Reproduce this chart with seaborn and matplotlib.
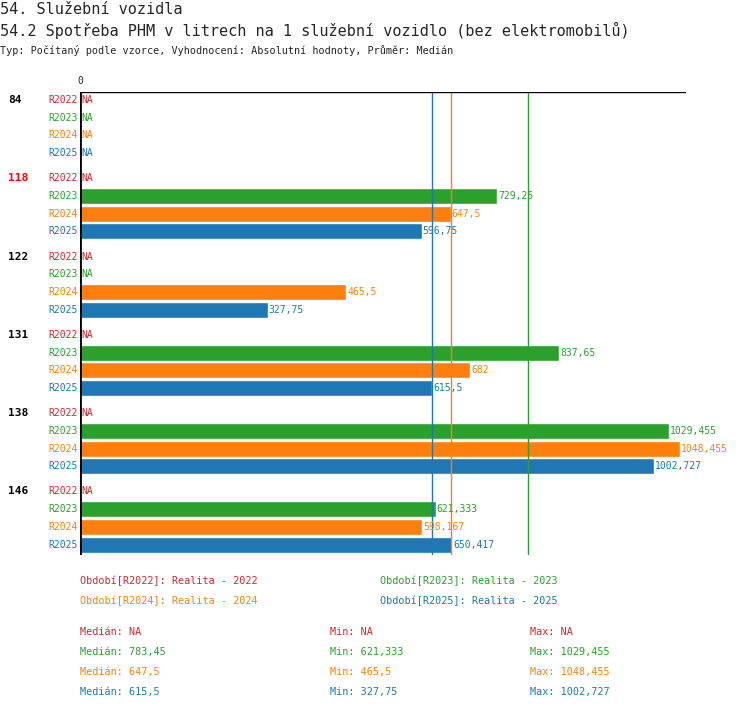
import matplotlib
matplotlib.use("Agg")
import matplotlib.pyplot as plt
import numpy as np
import seaborn as sns

sns.set_theme(style="white")
plt.rcParams["font.family"] = ["DejaVu Sans Mono", "DejaVu Sans"]

GROUPS = ["84", "118", "122", "131", "138", "146"]
GROUP_COLORS = ["black", "red", "black", "black", "black", "black"]
SERIES = ["R2022", "R2023", "R2024", "R2025"]
COLORS = ["#d62728", "#2ca02c", "#ff7f0e", "#1f77b4"]
VALUES = [
    [None, None, None, None],
    [None, 729.25, 647.5, 596.75],
    [None, None, 465.5, 327.75],
    [None, 837.65, 682, 615.5],
    [None, 1029.455, 1048.455, 1002.727],
    [None, 621.333, 598.167, 650.417],
]
LABELS = [
    [None, None, None, None],
    [None, "729,25", "647,5", "596,75"],
    [None, None, "465,5", "327,75"],
    [None, "837,65", "682", "615,5"],
    [None, "1029,455", "1048,455", "1002,727"],
    [None, "621,333", "598,167", "650,417"],
]
MEDIANS = [None, 783.45, 647.5, 615.5]
LEGEND = ["Období[R2022]: Realita - 2022", "Období[R2023]: Realita - 2023",
          "Období[R2024]: Realita - 2024", "Období[R2025]: Realita - 2025"]
STATS = [["Medián: NA", "Min: NA", "Max: NA"],
         ["Medián: 783,45", "Min: 621,333", "Max: 1029,455"],
         ["Medián: 647,5", "Min: 465,5", "Max: 1048,455"],
         ["Medián: 615,5", "Min: 327,75", "Max: 1002,727"]]

W, H = 750, 710
fig = plt.figure(figsize=(W / 100, H / 100), dpi=100)
TOP, BOT, LEFT, RIGHT = 92, 555, 80, 686
ax = fig.add_axes([LEFT / W, 1 - BOT / H, (RIGHT - LEFT) / W, (BOT - TOP) / H])
xmax = 1048.455 * (RIGHT - LEFT) / 600
ax.set_xlim(0, xmax)
ax.set_ylim(BOT, TOP)
ax.axis("off")


def ftext(x, y, s, **kw):
    fig.text(x / W, 1 - y / H, s, va="center", **kw)


def ypos(g, r):
    return 100 + g * 78.3 + r * 17.7


for g, grp in enumerate(GROUPS):
    ftext(8, ypos(g, 0), grp, fontsize=8, fontweight="bold", color=GROUP_COLORS[g])
    for r, s in enumerate(SERIES):
        y = ypos(g, r)
        ftext(78, y, s, fontsize=7, color=COLORS[r], ha="right")
        v = VALUES[g][r]
        if v is None:
            ax.text(3, y, "NA", fontsize=7, color=COLORS[r], va="center")
        else:
            ax.barh(y, v, height=16, color=COLORS[r])
            ax.text(v + 2, y, LABELS[g][r], fontsize=7, color=COLORS[r], va="center")

for m, c in zip(MEDIANS, COLORS):
    if m is not None:
        ax.axvline(m, color=c, lw=1)
ax.axvline(0, color="black", lw=2)
ax.axhline(TOP, color="black", lw=1)
ftext(80, 81, "0", fontsize=7, ha="center")

ftext(0, 9, "54. Služební vozidla", fontsize=11)
ftext(0, 30, "54.2 Spotřeba PHM v litrech na 1 služební vozidlo (bez elektromobilů)", fontsize=11)
ftext(0, 50, "Typ: Počítaný podle vzorce, Vyhodnocení: Absolutní hodnoty, Průměr: Medián", fontsize=7.3)

for i, (txt, c) in enumerate(zip(LEGEND, COLORS)):
    ftext(80 + 300 * (i % 2), 581 + 20 * (i // 2), txt, fontsize=7.3, color=c)
for i, (row, c) in enumerate(zip(STATS, COLORS)):
    for j, txt in enumerate(row):
        ftext([80, 330, 530][j], 632 + 20 * i, txt, fontsize=7.3, color=c)

fig.savefig("out.png", dpi=100, facecolor="white")
